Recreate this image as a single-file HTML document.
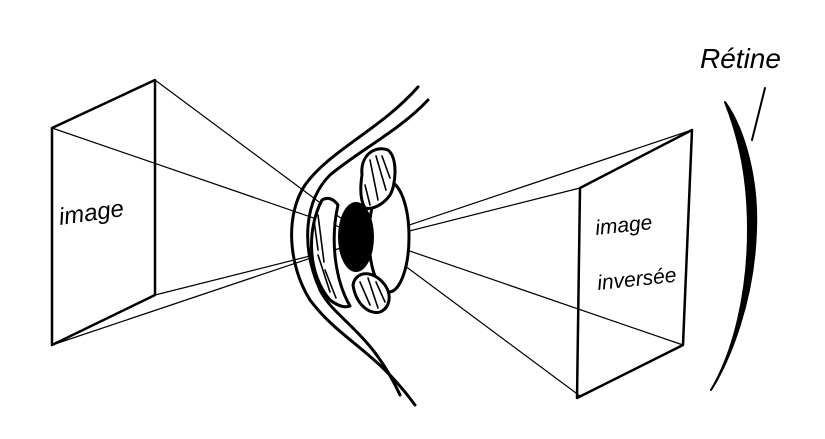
<!DOCTYPE html>
<html><head><style>body{margin:0;background:#fff}svg{display:block}</style></head><body>
<svg width="825" height="439" viewBox="0 0 825 439" xmlns="http://www.w3.org/2000/svg" fill="none" stroke="#000" stroke-linecap="round" stroke-linejoin="round">
<g stroke-width="2.5">
<path d="M52,128 L155,80 L155,295 L52,345 Z"/>
</g>
<g stroke-width="1.2">
<line x1="155" y1="80" x2="580" y2="396"/>
<line x1="52" y1="128" x2="683" y2="345"/>
<line x1="52" y1="345" x2="692" y2="130"/>
<line x1="155" y1="295" x2="580" y2="188"/>
</g>
<g stroke-width="2.5">
<path d="M692,130 L580,188 L577,398 L683,345 Z"/>
</g>
<!-- eye -->
<g stroke-width="3">
<path d="M418,87 C380,130 330,150 305,185 C285,215 288,265 310,300 C340,340 375,350 415,405"/>
<path d="M428,100 C400,130 360,150 330,175 C305,200 300,245 320,290 C335,320 370,330 400,395"/>
<path d="M322,200 C306,230 308,275 330,300 C338,306 345,308 350,306 C335,280 330,240 338,205 C333,198 327,197 322,200 Z" fill="#fff"/>
<ellipse cx="389" cy="237" rx="20" ry="55" fill="#fff"/>
<path d="M362,175 C360,155 375,145 388,150 C398,158 396,185 390,195 C383,205 372,210 365,208 C360,200 360,188 362,175 Z" fill="#fff"/>
<path d="M353,285 C355,272 372,268 385,285 C392,295 390,308 380,312 C370,315 356,305 353,285 Z" fill="#fff"/>
</g>
<g stroke-width="1.6">
<path d="M314,220 L318,250 M318,215 L324,262 M318,255 L330,292 M325,270 L336,298 M370,160 L378,200 M376,156 L386,190 M382,156 L390,178 M365,185 L370,205 M360,282 L370,305 M368,278 L378,308 M376,282 L385,302"/>
</g>
<ellipse cx="356" cy="237" rx="18" ry="35" fill="#000" stroke="none"/>
<!-- retina -->
<path d="M725,102 C745,130 758,180 756,230 C754,300 730,360 711,390 C735,350 748,290 748,230 C748,180 740,140 725,102 Z" fill="#000" stroke="#000" stroke-width="2"/>
<line x1="765" y1="88" x2="752" y2="140" stroke-width="2"/>
<g fill="#000" stroke="none" font-family="'Liberation Sans', sans-serif" font-style="italic">
<text x="700" y="68" font-size="28">Rétine</text>
<text x="60" y="225" font-size="24" transform="rotate(-8 60 225)">image</text>
<text x="596" y="235" font-size="21" transform="rotate(-6 596 235)">image</text>
<text x="598" y="290" font-size="21" transform="rotate(-6 598 290)">inversée</text>
</g>
</svg>
</body></html>
